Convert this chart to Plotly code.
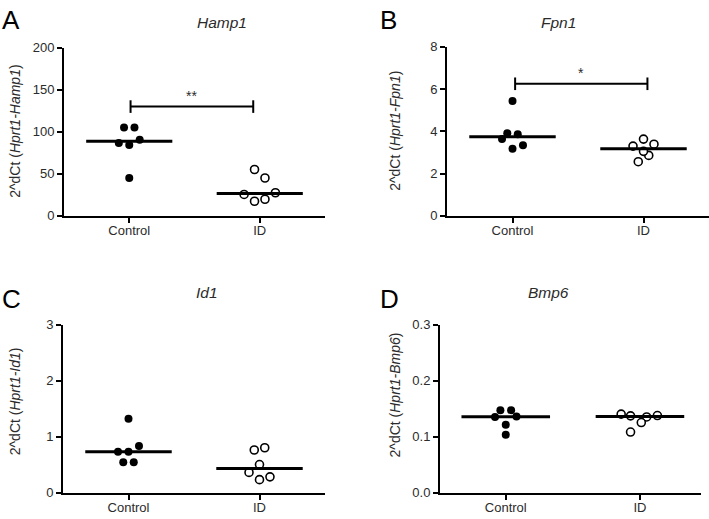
import numpy as np
import plotly.graph_objects as go

W, H = 709, 519

categories = ["Control", "ID"]

# Panel A: Hamp1
hamp1_control = [105.2, 105.0, 86.7, 84.4, 90.5, 45.0]
hamp1_id = [55.1, 45.0, 25.4, 17.3, 19.7, 27.4]
hamp1_control_jit = [-0.04, 0.04, -0.08, 0.0, 0.08, 0.0]
hamp1_id_jit = [-0.04, 0.04, -0.12, -0.04, 0.04, 0.12]

# Panel B: Fpn1
fpn1_control = [5.43, 3.91, 3.86, 3.63, 3.17, 3.34]
fpn1_id = [3.30, 3.63, 3.39, 2.86, 2.56, 3.05]
fpn1_control_jit = [0.0, -0.04, 0.04, -0.08, 0.0, 0.08]
fpn1_id_jit = [-0.08, 0.0, 0.08, 0.04, -0.04, 0.0]

# Panel C: Id1
id1_control = [1.32, 0.73, 0.73, 0.83, 0.54, 0.54]
id1_id = [0.76, 0.80, 0.50, 0.36, 0.23, 0.28]
id1_control_jit = [0.0, -0.08, 0.0, 0.08, -0.04, 0.04]
id1_id_jit = [-0.04, 0.04, 0.0, -0.08, 0.0, 0.08]

# Panel D: Bmp6
bmp6_control = [0.147, 0.147, 0.135, 0.136, 0.121, 0.103]
bmp6_id = [0.140, 0.137, 0.135, 0.1375, 0.125, 0.108]
bmp6_control_jit = [-0.04, 0.04, -0.08, 0.08, 0.0, 0.0]
bmp6_id_jit = [-0.14, -0.07, 0.05, 0.13, 0.01, -0.07]

# significance bars
sig_a_y, sig_a_x, sig_a_label = 130.0, [0.01, 0.95], "**"
sig_b_y, sig_b_x, sig_b_label = 6.25, [0.02, 1.03], "*"

FONT = "Arial, Liberation Sans, sans-serif"
TXT = "#2b2b2b"

panels = [
    dict(letter="A", gene="Hamp1", ctrl=hamp1_control, idv=hamp1_id,
         cj=hamp1_control_jit, ij=hamp1_id_jit, yr=[0, 200], dt=50, fmt="d",
         xpx=(64, 325), ypx=(42, 215), xr=[-0.5, 1.5],
         sig=(sig_a_y, sig_a_x, sig_a_label), ytx=15, yty=128.5, lx=0, tty=15.5, lty=13),
    dict(letter="B", gene="Fpn1", ctrl=fpn1_control, idv=fpn1_id,
         cj=fpn1_control_jit, ij=fpn1_id_jit, yr=[0, 8], dt=2, fmt="d",
         xpx=(447, 709), ypx=(41, 215), xr=[-0.5, 1.5],
         sig=(sig_b_y, sig_b_x, sig_b_label), ytx=395, yty=127.5, lx=378, tty=15.5, lty=13),
    dict(letter="C", gene="Id1", ctrl=id1_control, idv=id1_id,
         cj=id1_control_jit, ij=id1_id_jit, yr=[0, 3], dt=1, fmt="d",
         xpx=(63, 325), ypx=(327, 500), xr=[-0.5, 1.5],
         sig=None, ytx=15, yty=406, lx=0, tty=294, lty=301),
    dict(letter="D", gene="Bmp6", ctrl=bmp6_control, idv=bmp6_id,
         cj=bmp6_control_jit, ij=bmp6_id_jit, yr=[0, 0.3], dt=0.1, fmt=".1f",
         xpx=(440, 701), ypx=(327, 500), xr=[-0.49, 1.455],
         sig=None, ytx=395, yty=400, lx=378, tty=294, lty=301),
]

fig = go.Figure()
annotations = []
HALF = 0.33

for i, p in enumerate(panels):
    n = "" if i == 0 else str(i + 1)
    xa, ya = "x" + n, "y" + n
    fig.add_trace(go.Scatter(
        x=[0 + j for j in p["cj"]], y=p["ctrl"], mode="markers", xaxis=xa, yaxis=ya,
        marker=dict(symbol="circle", size=8, color="black", line=dict(width=0)),
        showlegend=False, cliponaxis=False))
    fig.add_trace(go.Scatter(
        x=[1 + j for j in p["ij"]], y=p["idv"], mode="markers", xaxis=xa, yaxis=ya,
        marker=dict(symbol="circle", size=8, color="white", line=dict(width=1.6, color="black")),
        showlegend=False, cliponaxis=False))
    for k, vals in enumerate([p["ctrl"], p["idv"]]):
        med = float(np.median(vals))
        fig.add_trace(go.Scatter(
            x=[k - HALF, k + HALF], y=[med, med], mode="lines", xaxis=xa, yaxis=ya,
            line=dict(color="black", width=3), showlegend=False, cliponaxis=False))
    if p["sig"] is not None:
        sy, sx, lab = p["sig"]
        fig.add_trace(go.Scatter(
            x=sx, y=[sy, sy], mode="lines+markers", xaxis=xa, yaxis=ya,
            line=dict(color="black", width=2),
            marker=dict(symbol="line-ns-open", size=9, line=dict(width=2, color="black"), color="black"),
            showlegend=False, cliponaxis=False))
        annotations.append(dict(x=(sx[0] + sx[1]) / 2, y=sy, xref=xa, yref=ya, text=lab,
                                showarrow=False, yanchor="bottom", yshift=1,
                                font=dict(family=FONT, size=14, color=TXT)))
    x0, x1 = p["xpx"]
    y0, y1 = p["ypx"]
    xdom = [x0 / W, x1 / W]
    ydom = [1 - y1 / H, 1 - y0 / H]
    fig.update_layout(**{
        ("xaxis" + n): dict(domain=xdom, anchor=ya, range=p["xr"], tickmode="array",
                            tickvals=[0, 1], ticktext=categories, showline=True,
                            linecolor="black", linewidth=2, ticks="outside", ticklen=5,
                            tickwidth=2, tickcolor="black", showgrid=False, zeroline=False,
                            ticklabelstandoff=-3,
                            tickfont=dict(family=FONT, size=13, color=TXT), fixedrange=True),
        ("yaxis" + n): dict(domain=ydom, anchor=xa, range=p["yr"], dtick=p["dt"],
                            tick0=0, tickformat=p["fmt"], showline=True,
                            linecolor="black", linewidth=2, ticks="outside", ticklen=5,
                            tickwidth=2, tickcolor="black", showgrid=False, zeroline=False,
                            tickfont=dict(family=FONT, size=13, color=TXT), fixedrange=True),
    })
    annotations.append(dict(x=(x0 + x1) / 2 / W, y=1 - p["tty"] / H, xref="paper", yref="paper",
                            text="<i>%s</i>" % p["gene"], showarrow=False, yanchor="middle",
                            font=dict(family=FONT, size=15.5, color=TXT)))
    annotations.append(dict(x=p["lx"] / W, y=1 - p["lty"] / H, xref="paper", yref="paper",
                            text=p["letter"], showarrow=False, xanchor="left", yanchor="middle",
                            font=dict(family=FONT, size=26, color="black")))
    annotations.append(dict(x=p["ytx"] / W, y=1 - p["yty"] / H, xref="paper", yref="paper",
                            text="2^dCt (<i>Hprt1-%s</i>)" % p["gene"], showarrow=False,
                            xanchor="center", yanchor="middle",
                            textangle=-90, font=dict(family=FONT, size=14, color=TXT)))

fig.update_layout(width=W, height=H, margin=dict(l=0, r=0, t=0, b=0),
                  paper_bgcolor="white", plot_bgcolor="white",
                  annotations=annotations, showlegend=False)

fig.write_html("out.html", config={"displayModeBar": False},
               post_script="document.body.style.margin='0';document.body.style.overflow='hidden';")
